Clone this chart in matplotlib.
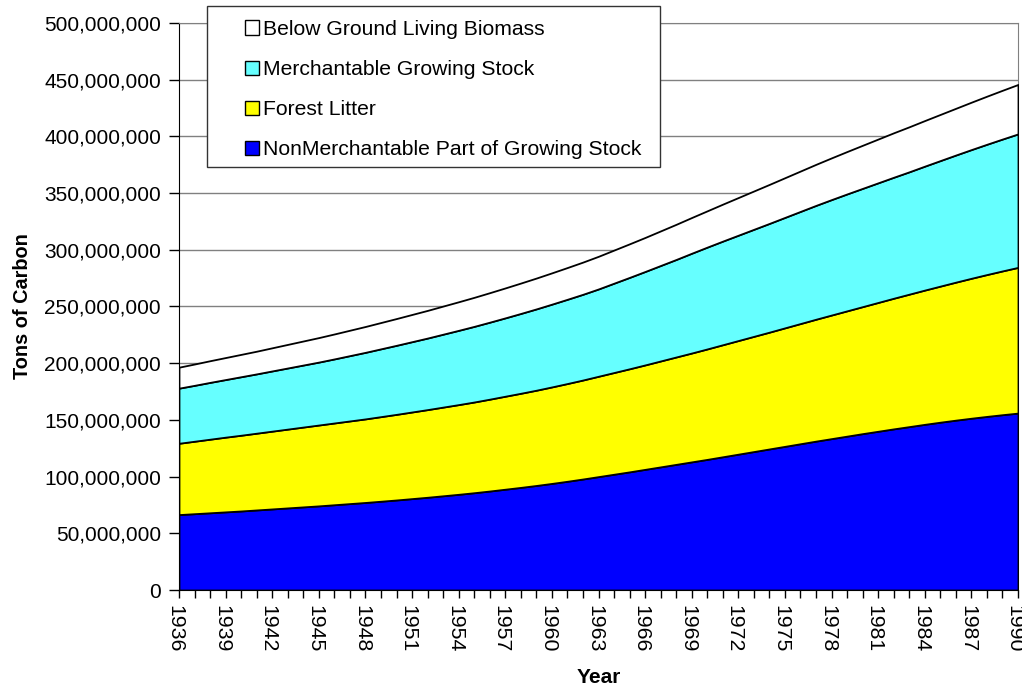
import matplotlib
matplotlib.use("Agg")
import matplotlib.pyplot as plt
import matplotlib.transforms as mtransforms
import numpy as np
from matplotlib.patches import Patch, Rectangle

plt.rcParams["font.family"] = ["Liberation Sans", "DejaVu Sans"]

# carbon stocks, millions of tons, one value per year 1936-1990
years = list(range(1936, 1991))

nonmerch = [
    66.5, 67.3, 68.1, 68.9, 69.7, 70.6, 71.5, 72.4, 73.3, 74.2,
    75.2, 76.2, 77.2, 78.3, 79.4, 80.6, 81.8, 83.1, 84.4, 85.8,
    87.3, 88.9, 90.5, 92.2, 94.0, 95.9, 97.9, 100.0, 102.1, 104.2,
    106.4, 108.6, 110.8, 113.0, 115.2, 117.5, 119.8, 122.1, 124.4, 126.7,
    129.0, 131.3, 133.5, 135.7, 137.9, 140.0, 142.1, 144.1, 146.1, 148.0,
    149.8, 151.5, 153.1, 154.6, 156.0,
]
litter = [
    62.9, 63.9, 64.9, 65.9, 66.8, 67.7, 68.6, 69.5, 70.4, 71.3,
    72.1, 72.9, 73.7, 74.6, 75.5, 76.4, 77.3, 78.2, 79.1, 80.0,
    81.0, 82.0, 83.0, 84.0, 85.1, 86.2, 87.3, 88.5, 89.7, 90.9,
    92.1, 93.4, 94.7, 96.0, 97.4, 98.8, 100.2, 101.6, 103.0, 104.5,
    106.0, 107.5, 109.0, 110.5, 112.0, 113.6, 115.2, 116.8, 118.4, 120.0,
    121.7, 123.4, 125.1, 126.8, 128.5,
]
merch = [
    48.6, 49.3, 50.1, 50.8, 51.6, 52.3, 53.1, 53.9, 54.7, 55.5,
    56.5, 57.6, 58.7, 59.8, 60.9, 62.0, 63.1, 64.3, 65.5, 66.7,
    67.9, 69.1, 70.4, 71.7, 73.0, 74.3, 75.6, 77.0, 78.8, 80.6,
    82.4, 84.2, 86.0, 88.0, 89.8, 91.4, 92.9, 94.4, 95.9, 97.4,
    98.9, 100.4, 101.8, 103.1, 104.3, 105.5, 106.7, 107.9, 109.3, 110.7,
    112.1, 113.5, 114.9, 116.3, 117.7,
]
below_ground = [
    18.5, 18.8, 19.1, 19.4, 19.7, 20.0, 20.4, 20.8, 21.2, 21.6,
    22.0, 22.4, 22.8, 23.2, 23.6, 24.0, 24.4, 24.8, 25.2, 25.6,
    26.0, 26.4, 26.8, 27.2, 27.6, 28.0, 28.4, 28.8, 29.2, 29.6,
    30.0, 30.5, 31.0, 31.5, 32.0, 32.6, 33.2, 33.8, 34.4, 35.0,
    35.6, 36.2, 36.8, 37.4, 38.0, 38.6, 39.2, 39.7, 40.2, 40.7,
    41.2, 41.8, 42.4, 43.0, 43.6,
]

labels = [
    "NonMerchantable Part of Growing Stock",
    "Forest Litter",
    "Merchantable Growing Stock",
    "Below Ground Living Biomass",
]
colors = ["#0000FF", "#FFFF00", "#66FFFF", "#FFFFFF"]
y_ticks = list(range(0, 501, 50))
x_label_years = list(range(1936, 1991, 3))

fig = plt.figure(figsize=(10.22, 6.85), dpi=100)
ax = fig.add_axes([179 / 1022, 1 - 590 / 685, (1018 - 179) / 1022, (590 - 23) / 685])

series = [nonmerch, litter, merch, below_ground]
ax.stackplot(years, *series, colors=colors, edgecolor="black", linewidth=1.3, zorder=3)

ax.set_xlim(years[0], years[-1])
ax.set_ylim(0, 500)
ax.set_yticks(y_ticks)
ax.set_yticklabels([f"{v * 1_000_000:,}" for v in y_ticks])
ax.set_xticks(years)
ax.set_xticklabels([str(y) if y in x_label_years else "" for y in years], rotation=270)
ax.tick_params(axis="x", length=6, width=1, pad=5, labelsize=15.3)
ax.tick_params(axis="y", length=7, width=1, pad=6, labelsize=15)

# the rotated year labels sit a little left of their ticks
shift = mtransforms.ScaledTranslation(-4 / 100, 0, fig.dpi_scale_trans)
for lab in ax.get_xticklabels():
    lab.set_transform(lab.get_transform() + shift)

ax.yaxis.grid(True, color="#808080", linewidth=1.0, zorder=0)
ax.set_axisbelow(True)
for side in ("top", "right"):
    ax.spines[side].set_color("#808080")
for side in ("left", "bottom"):
    ax.spines[side].set_color("black")

ax.set_xlabel("Year", fontsize=15, fontweight="bold", labelpad=11)
ax.set_ylabel("Tons of Carbon", fontsize=14.3, fontweight="bold", labelpad=9)

# legend frame drawn separately so the left padding can be wider than the top
fig.patches.append(
    Rectangle((207 / 1022, 1 - 167 / 685), (660 - 207) / 1022, (167 - 6) / 685,
              transform=fig.transFigure, facecolor="white", edgecolor="#333333",
              linewidth=1.0, zorder=10)
)
handles = [Patch(facecolor=c, edgecolor="black", linewidth=1.0) for c in colors]
leg = fig.legend(
    handles[::-1], labels[::-1],
    loc="upper left", bbox_to_anchor=(228 / 1022, 1 - 3 / 685),
    frameon=False, fontsize=15.2, handlelength=0.65, handleheight=0.65,
    handletextpad=0.2, labelspacing=1.0, borderpad=0.3,
)
leg.set_zorder(11)

fig.savefig("out.png", dpi=100)
